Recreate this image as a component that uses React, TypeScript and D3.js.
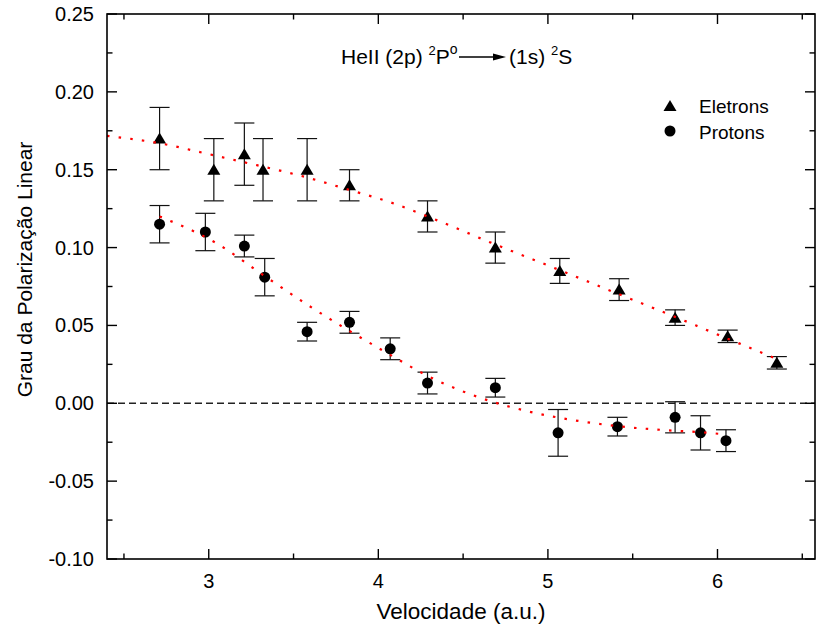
import React from 'react';
import * as d3 from 'd3';

const W = 816;
const H = 634;

// Electrons (triangles)
const electronV = [2.71, 3.03, 3.21, 3.32, 3.58, 3.83, 4.29, 4.69, 5.07, 5.42, 5.75, 6.06, 6.35];
const electronP = [0.170, 0.150, 0.160, 0.150, 0.150, 0.140, 0.120, 0.100, 0.085, 0.073, 0.055, 0.043, 0.026];
const electronErr = [0.020, 0.020, 0.020, 0.020, 0.020, 0.010, 0.010, 0.010, 0.008, 0.007, 0.005, 0.004, 0.004];

// Protons (circles)
const protonV = [2.71, 2.98, 3.21, 3.33, 3.58, 3.83, 4.07, 4.29, 4.69, 5.06, 5.41, 5.75, 5.90, 6.05];
const protonP = [0.115, 0.110, 0.101, 0.081, 0.046, 0.052, 0.035, 0.013, 0.010, -0.019, -0.015, -0.009, -0.019, -0.024];
const protonErr = [0.012, 0.012, 0.007, 0.012, 0.006, 0.007, 0.007, 0.007, 0.006, 0.015, 0.006, 0.010, 0.011, 0.007];

// Dotted fit curves
const electronFitV = [2.40, 2.71, 3.00, 3.20, 3.58, 3.83, 4.10, 4.29, 4.69, 5.07, 5.42, 5.75, 6.06, 6.36];
const electronFitP = [0.1717, 0.167, 0.160, 0.155, 0.145, 0.137, 0.128, 0.120, 0.102, 0.0855, 0.070, 0.0555, 0.0415, 0.028];
const protonFitV = [2.71, 3.05, 3.32, 3.59, 4.01, 4.34, 4.61, 4.88, 5.155, 5.42, 5.70, 5.90, 6.04];
const protonFitP = [0.120, 0.1025, 0.0824, 0.0627, 0.0349, 0.015, 0.0032, -0.0051, -0.0109, -0.0148, -0.0173, -0.0186, -0.0199];

const xMajor = [3, 4, 5, 6];
const xMinor = [2.5, 3.5, 4.5, 5.5, 6.5];
const yMajor = [-0.10, -0.05, 0.0, 0.05, 0.10, 0.15, 0.20, 0.25];
const yMinor = [-0.075, -0.025, 0.025, 0.075, 0.125, 0.175, 0.225];

const legendLabels = ['Eletrons', 'Protons'];
const xTitle = 'Velocidade (a.u.)';
const yTitle = 'Grau da Polarização Linear';

const FONT = "Arial, 'Liberation Sans', Helvetica, sans-serif";

const fmt = d3.formatLocale({ decimal: '.', thousands: ',', grouping: [3], currency: ['', ''], minus: '-' }).format('.2f');

function Triangle({ cx, cy }: { cx: number; cy: number }) {
  return <path d={`M${cx},${cy - 6}L${cx + 6.5},${cy + 5}L${cx - 6.5},${cy + 5}Z`} fill="#000" />;
}

export default function App() {
  const left = 107, right = 815, top = 14, bottom = 559;
  const x = d3.scaleLinear().domain([2.4, 6.575]).range([left, right]);
  const y = d3.scaleLinear().domain([-0.10, 0.25]).range([bottom, top]);

  const line = d3.line<[number, number]>().x(d => x(d[0])).y(d => y(d[1])).curve(d3.curveMonotoneX);
  const eFit = line(electronFitV.map((v, i) => [v, electronFitP[i]]));
  const pFit = line(protonFitV.map((v, i) => [v, protonFitP[i]]));

  const majorLen = 10, minorLen = 5.5;
  const cap = 10;

  const errBar = (v: number, p: number, e: number, key: string) => {
    const cx = x(v);
    return (
      <g key={key} stroke="#111" strokeWidth={1.2}>
        <line x1={cx} x2={cx} y1={y(p + e)} y2={y(p - e)} />
        <line x1={cx - cap} x2={cx + cap} y1={y(p + e)} y2={y(p + e)} />
        <line x1={cx - cap} x2={cx + cap} y1={y(p - e)} y2={y(p - e)} />
      </g>
    );
  };

  return (
    <svg width={W} height={H} style={{ position: 'absolute', left: 0, top: 0, background: '#fff' }} fontFamily={FONT}>
      <rect x={0} y={0} width={W} height={H} fill="#fff" />
      {/* zero line */}
      <line x1={left} x2={right} y1={y(0)} y2={y(0)} stroke="#222" strokeWidth={1.5} strokeDasharray="7 4" />

      {/* error bars */}
      {electronV.map((v, i) => errBar(v, electronP[i], electronErr[i], 'ee' + i))}
      {protonV.map((v, i) => errBar(v, protonP[i], protonErr[i], 'pe' + i))}

      {/* markers */}
      {electronV.map((v, i) => <Triangle key={'et' + i} cx={x(v)} cy={y(electronP[i])} />)}
      {protonV.map((v, i) => <circle key={'pc' + i} cx={x(v)} cy={y(protonP[i])} r={5.5} fill="#000" />)}

      {/* fits */}
      <path d={eFit || ''} fill="none" stroke="#ff0000" strokeWidth={2.2} strokeDasharray="2.5 9.2" />
      <path d={pFit || ''} fill="none" stroke="#ff0000" strokeWidth={2.2} strokeDasharray="2.5 9.2" />

      {/* frame */}
      <rect x={left} y={top} width={right - left} height={bottom - top} fill="none" stroke="#000" strokeWidth={1.6} />

      {/* x ticks (bottom & top, inward) */}
      {xMajor.map(v => (
        <g key={'xm' + v} stroke="#000" strokeWidth={1.4}>
          <line x1={x(v)} x2={x(v)} y1={bottom} y2={bottom - majorLen} />
          <line x1={x(v)} x2={x(v)} y1={top} y2={top + majorLen} />
        </g>
      ))}
      {xMinor.map(v => (
        <g key={'xn' + v} stroke="#000" strokeWidth={1.4}>
          <line x1={x(v)} x2={x(v)} y1={bottom} y2={bottom - minorLen} />
          <line x1={x(v)} x2={x(v)} y1={top} y2={top + minorLen} />
        </g>
      ))}
      {/* y ticks (left & right, inward) */}
      {yMajor.map(v => (
        <g key={'ym' + v} stroke="#000" strokeWidth={1.4}>
          <line x1={left} x2={left + majorLen} y1={y(v)} y2={y(v)} />
          <line x1={right} x2={right - majorLen} y1={y(v)} y2={y(v)} />
        </g>
      ))}
      {yMinor.map(v => (
        <g key={'yn' + v} stroke="#000" strokeWidth={1.4}>
          <line x1={left} x2={left + minorLen} y1={y(v)} y2={y(v)} />
          <line x1={right} x2={right - minorLen} y1={y(v)} y2={y(v)} />
        </g>
      ))}

      {/* tick labels */}
      {xMajor.map(v => (
        <text key={'xl' + v} x={x(v)} y={588} textAnchor="middle" fontSize={20} fill="#000">{v}</text>
      ))}
      {yMajor.map(v => (
        <text key={'yl' + v} x={94} y={y(v)} dy="0.35em" textAnchor="end" fontSize={20} fill="#000">{fmt(v)}</text>
      ))}

      {/* axis titles */}
      <text x={(left + right) / 2} y={619} textAnchor="middle" fontSize={22.5} fill="#000">{xTitle}</text>
      <text transform={`translate(32,${(top + bottom) / 2 - 17}) rotate(-90)`} textAnchor="middle" fontSize={21} fill="#000">{yTitle}</text>

      {/* title */}
      <text x={341} y={64} fontSize={21} fill="#000">
        HeII (2p) <tspan dy={-9} fontSize={13}>2</tspan><tspan dy={9}>P</tspan><tspan dy={-10} fontSize={14}>o</tspan>
      </text>
      <line x1={459} x2={494} y1={57} y2={57} stroke="#000" strokeWidth={1.3} />
      <path d="M493,53.5L506,57L493,60.5Z" fill="#000" />
      <text x={509} y={64} fontSize={21} fill="#000">
        (1s) <tspan dy={-9} fontSize={13}>2</tspan><tspan dy={9}>S</tspan>
      </text>

      {/* legend */}
      <Triangle cx={670} cy={106} />
      <text x={699} y={113} fontSize={19} fill="#000">{legendLabels[0]}</text>
      <circle cx={670} cy={131} r={5.5} fill="#000" />
      <text x={699} y={139} fontSize={19} fill="#000">{legendLabels[1]}</text>
    </svg>
  );
}
